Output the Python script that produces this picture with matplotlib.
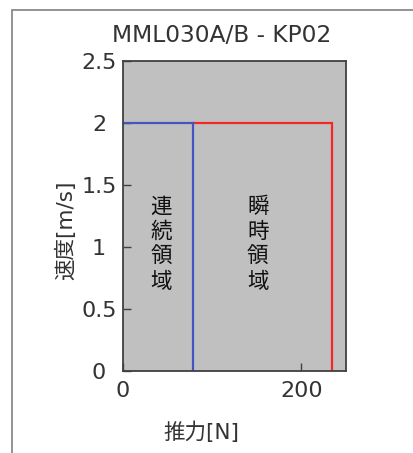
import matplotlib
matplotlib.use("Agg")
import matplotlib.pyplot as plt
from matplotlib.patches import Rectangle

# ---- data ----
title = "MML030A/B - KP02"
xlabel = "推力[N]"
ylabel = "速度[m/s]"
continuous_force = [0, 78, 78]
continuous_speed = [2, 2, 0]
peak_force = [78, 234, 234]
peak_speed = [2, 2, 0]
region_labels = ["連\n続\n領\n域", "瞬\n時\n領\n域"]
region_x = [43, 151]
region_y = [1.02, 1.02]
xticks = [0, 200]
xticklabels = ["0", "200"]
yticks = [0, 0.5, 1, 1.5, 2, 2.5]
yticklabels = ["0", "0.5", "1", "1.5", "2", "2.5"]

W, H = 414, 453
fig = plt.figure(figsize=(W / 100, H / 100), dpi=100)
fig.patch.set_facecolor("white")

fams = ["DejaVu Sans", "Noto Sans CJK JP"]
txtcol = "#333333"

# outer frame (cropped at right/bottom)
fig.patches.append(Rectangle((12 / W, -0.1), 1.2, 1 - 10 / H + 0.1,
                             transform=fig.transFigure, fill=False,
                             edgecolor="#8a8a8a", linewidth=1.3))

ax = fig.add_axes([123 / W, 82 / H, 223 / W, 310 / H])
ax.set_facecolor("#c0c0c0")
ax.plot(peak_force, peak_speed, color="#f02828", linewidth=1.6, solid_joinstyle="miter")
ax.plot(continuous_force, continuous_speed, color="#4454c2", linewidth=1.6, solid_joinstyle="miter")

for lbl, xx, yy in zip(region_labels, region_x, region_y):
    ax.text(xx, yy, lbl, ha="center", va="center", fontsize=15.5,
            family=["Noto Sans CJK JP", "DejaVu Sans"], color="#111111",
            linespacing=1.18)

ax.set_xlim(0, 250)
ax.set_ylim(0, 2.5)
ax.set_xticks(xticks)
ax.set_xticklabels(xticklabels, fontsize=16, color=txtcol)
ax.set_yticks(yticks)
ax.set_yticklabels(yticklabels, fontsize=16, color=txtcol)
for t in ax.get_yticklabels():
    t.set_horizontalalignment("center")
ax.tick_params(axis="y", direction="in", length=5.5, width=1, color="#404040", pad=17.3)
ax.tick_params(axis="x", direction="in", length=5.5, width=1, color="#404040", pad=7.0)
for s in ax.spines.values():
    s.set_color("#404040")
    s.set_linewidth(1.3)

fig.text(221.7 / W, 1 - 42 / H, title, ha="center", va="baseline",
         fontsize=16.8, family=fams, color=txtcol)
fig.text(201 / W, 1 - 432 / H, xlabel, ha="center", va="center",
         fontsize=15.5, family=fams, color=txtcol)
fig.text(66 / W, 1 - 230 / H, ylabel, ha="center", va="center", rotation=90,
         fontsize=15.5, family=fams, color=txtcol)

fig.savefig("out.png", dpi=100)
